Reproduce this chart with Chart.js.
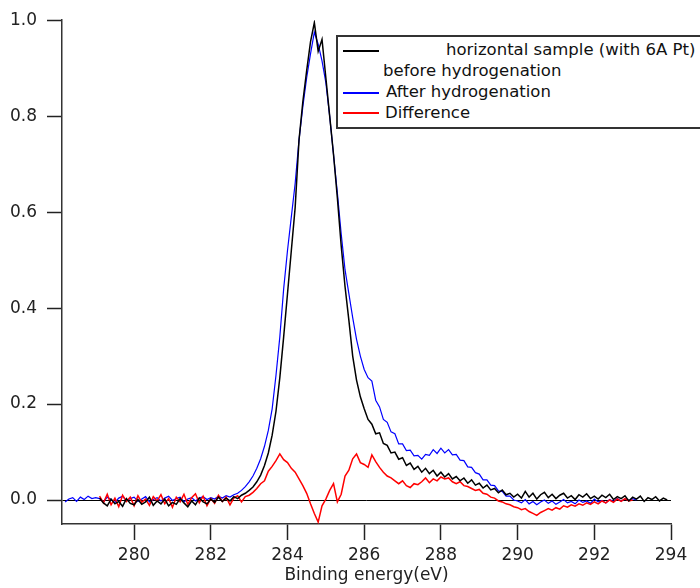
<!DOCTYPE html>
<html>
<head>
<meta charset="utf-8">
<script src="https://cdn.jsdelivr.net/npm/chart.js@4/dist/chart.umd.min.js"></script>
<style>
  html, body { margin: 0; padding: 0; background: #fff; }
  #wrap { position: relative; width: 700px; height: 588px; font-family: 'DejaVu Sans', sans-serif; }
  #legend { position: absolute; left: 336px; top: 35px; width: 380px; height: 90px; border: 2px solid #333; background: #fff; }
  #legend .line { position: absolute; left: 5px; width: 36px; height: 2px; }
  #legend .txt { position: absolute; font-size: 16.5px; line-height: 20px; color: #111; white-space: nowrap; }
</style>
</head>
<body>
<div id="wrap">
  <canvas id="xps" width="700" height="588"></canvas>
  <div id="legend">
    <div class="line" style="top:13px;background:#000"></div>
    <div class="txt" style="left:108px;top:3px">horizontal sample (with 6A Pt)</div>
    <div class="txt" style="left:45px;top:24px">before hydrogenation</div>
    <div class="line" style="top:55px;background:#0000ff"></div>
    <div class="txt" style="left:48px;top:45px">After hydrogenation</div>
    <div class="line" style="top:75px;background:#ff0000"></div>
    <div class="txt" style="left:47px;top:66px">Difference</div>
  </div>
</div>
<script>
// ------------ DATA (binding energy in eV, normalised intensity) ------------
const energy = [
  278.2, 278.3, 278.4, 278.5, 278.6, 278.7, 278.8, 278.9,
  279.0, 279.1, 279.2, 279.3, 279.4, 279.5, 279.6, 279.7, 279.8, 279.9,
  280.0, 280.1, 280.2, 280.3, 280.4, 280.5, 280.6, 280.7, 280.8, 280.9,
  281.0, 281.1, 281.2, 281.3, 281.4, 281.5, 281.6, 281.7, 281.8, 281.9,
  282.0, 282.1, 282.2, 282.3, 282.4, 282.5, 282.6, 282.7, 282.8, 282.9,
  283.0, 283.1, 283.2, 283.3, 283.4, 283.5, 283.6, 283.7, 283.8, 283.9,
  284.0, 284.1, 284.2, 284.3, 284.4, 284.5, 284.6, 284.7, 284.8, 284.9,
  285.0, 285.1, 285.2, 285.3, 285.4, 285.5, 285.6, 285.7, 285.8, 285.9,
  286.0, 286.1, 286.2, 286.3, 286.4, 286.5, 286.6, 286.7, 286.8, 286.9,
  287.0, 287.1, 287.2, 287.3, 287.4, 287.5, 287.6, 287.7, 287.8, 287.9,
  288.0, 288.1, 288.2, 288.3, 288.4, 288.5, 288.6, 288.7, 288.8, 288.9,
  289.0, 289.1, 289.2, 289.3, 289.4, 289.5, 289.6, 289.7, 289.8, 289.9,
  290.0, 290.1, 290.2, 290.3, 290.4, 290.5, 290.6, 290.7, 290.8, 290.9,
  291.0, 291.1, 291.2, 291.3, 291.4, 291.5, 291.6, 291.7, 291.8, 291.9,
  292.0, 292.1, 292.2, 292.3, 292.4, 292.5, 292.6, 292.7, 292.8, 292.9,
  293.0, 293.1, 293.2, 293.3, 293.4, 293.5, 293.6, 293.7, 293.8, 293.9,
  294.0
];

// before hydrogenation (black)
const beforeH = [
  null, null, null, null, null, null, null, null,
  null, 0.004, -0.006, -0.012, 0.002, -0.008, -0.003, -0.013, 0.003, -0.007,
  -0.010, 0.001, -0.009, -0.004, 0.006, -0.011, -0.002, -0.008, 0.002, -0.012,
  -0.005, -0.009, 0.003, -0.006, -0.014, -0.002, -0.010, 0.004, -0.004, -0.008,
  0.002, -0.005, 0.006, -0.003, 0.004, -0.002, 0.007, 0.003, 0.010, 0.014,
  0.020, 0.027, 0.038, 0.052, 0.072, 0.098, 0.135, 0.185, 0.255, 0.340,
  0.430, 0.520, 0.610, 0.750, 0.830, 0.895, 0.955, 0.995, 0.935, 0.960,
  0.880, 0.800, 0.720, 0.630, 0.530, 0.445, 0.375, 0.300, 0.250, 0.215,
  0.190, 0.168, 0.158, 0.138, 0.140, 0.118, 0.114, 0.098, 0.100, 0.085,
  0.088, 0.072, 0.077, 0.064, 0.070, 0.058, 0.066, 0.055, 0.062, 0.050,
  0.058, 0.048, 0.055, 0.044, 0.049, 0.040, 0.046, 0.035, 0.042, 0.031,
  0.035, 0.025, 0.031, 0.021, 0.024, 0.015, 0.021, 0.011, 0.014, 0.006,
  0.012, 0.004, 0.018, 0.006, 0.014, 0.002, 0.011, 0.016, 0.005, 0.012,
  0.003, 0.010, 0.014, 0.004, 0.009, 0.001, 0.011, 0.006, 0.013, 0.003,
  0.008, 0.002, 0.010, 0.005, 0.012, 0.001, 0.007, 0.003, 0.009, -0.002,
  0.006, 0.002, 0.008, -0.003, 0.005, 0.001, 0.007, -0.002, 0.004, 0.000,
  null
];

// after hydrogenation (blue)
const afterH = [
  -0.004, 0.002, 0.005, -0.003, 0.006, 0.001, 0.008, 0.003,
  0.005, 0.003, -0.004, 0.006, 0.001, -0.005, 0.004, 0.008, -0.002, 0.003,
  0.006, -0.003, 0.002, 0.007, -0.004, 0.001, 0.005, -0.002, 0.004, 0.008,
  -0.001, 0.003, 0.006, -0.004, 0.002, 0.005, -0.002, 0.004, 0.007, 0.001,
  0.005, 0.002, 0.008, 0.004, 0.009, 0.006, 0.011, 0.014, 0.020, 0.028,
  0.038, 0.050, 0.066, 0.086, 0.112, 0.145, 0.190, 0.260, 0.340, 0.440,
  0.520, 0.590, 0.660, 0.750, 0.820, 0.880, 0.930, 0.975, 0.950, 0.915,
  0.870, 0.800, 0.720, 0.640, 0.555, 0.480, 0.430, 0.380, 0.335, 0.300,
  0.272, 0.255, 0.248, 0.208, 0.194, 0.168, 0.162, 0.142, 0.138, 0.117,
  0.117, 0.103, 0.104, 0.092, 0.093, 0.085, 0.095, 0.093, 0.105, 0.097,
  0.108, 0.098, 0.105, 0.094, 0.095, 0.083, 0.082, 0.069, 0.068, 0.057,
  0.054, 0.042, 0.042, 0.031, 0.030, 0.019, 0.018, 0.008, 0.008, 0.000,
  -0.002, -0.006, 0.001, -0.008, -0.003, -0.010, -0.004, 0.000, -0.007, -0.002,
  -0.009, -0.004, 0.001, -0.006, -0.003, -0.008, 0.000, -0.005, -0.002, -0.007,
  0.002, -0.004, -0.001, -0.006, 0.001, -0.003, 0.003, -0.002, 0.002, -0.001,
  0.003, 0.000, null, null, null, null, null, null, null, null,
  null
];

// difference (red)
const difference = [
  null, null, null, null, null, null, null, null,
  null, 0.008, -0.006, 0.012, -0.010, 0.004, -0.014, 0.010, -0.003, 0.006,
  -0.012, 0.009, -0.005, 0.002, -0.011, 0.007, -0.002, 0.011, -0.008, 0.003,
  -0.015, 0.006, -0.004, 0.012, -0.009, 0.005, 0.013, -0.006, 0.008, -0.012,
  0.003, -0.007, 0.010, -0.003, 0.006, -0.010, 0.004, 0.009, -0.004, 0.007,
  0.010, 0.016, 0.024, 0.034, 0.040, 0.060, 0.070, 0.082, 0.096, 0.084,
  0.078, 0.066, 0.058, 0.044, 0.030, 0.014, -0.008, -0.028, -0.046, -0.012,
  0.002, 0.020, 0.034, -0.004, 0.012, 0.050, 0.062, 0.086, 0.096, 0.078,
  0.074, 0.068, 0.094, 0.080, 0.068, 0.058, 0.050, 0.046, 0.040, 0.034,
  0.040, 0.030, 0.026, 0.034, 0.032, 0.038, 0.046, 0.036, 0.044, 0.040,
  0.048, 0.044, 0.046, 0.038, 0.034, 0.038, 0.030, 0.028, 0.024, 0.020,
  0.022, 0.014, 0.012, 0.006, 0.004, -0.002, -0.004, -0.008, -0.010, -0.014,
  -0.016, -0.020, -0.018, -0.024, -0.028, -0.032, -0.026, -0.022, -0.018, -0.021,
  -0.016, -0.019, -0.012, -0.015, -0.010, -0.013, -0.008, -0.011, -0.006, -0.009,
  -0.004, -0.008, -0.002, -0.006, 0.000, -0.005, 0.002, -0.003, 0.003, -0.002,
  0.000, null, null, null, null, null, null, null, null, null,
  null
];

const xTicks = [280, 282, 284, 286, 288, 290, 292, 294];
const yTicks = [0, 0.2, 0.4, 0.6, 0.8, 1.0];

// ------------ CHART ---------------
const font = { family: "'DejaVu Sans', sans-serif", size: 17 };
const points = vals => energy.map((e, i) => ({ x: e, y: vals[i] }));

new Chart(document.getElementById('xps'), {
  type: 'line',
  data: {
    datasets: [
      { label: 'horizontal sample (with 6A Pt) before hydrogenation', data: points(beforeH),
        borderColor: '#000000', borderWidth: 1.5, order: 0 },
      { label: 'Difference', data: points(difference),
        borderColor: '#ff0000', borderWidth: 1.5, order: 1 },
      { label: 'After hydrogenation', data: points(afterH),
        borderColor: '#0000ff', borderWidth: 1.2, order: 2 }
    ]
  },
  options: {
    responsive: false,
    animation: false,
    spanGaps: false,
    elements: { point: { radius: 0 }, line: { tension: 0 } },
    layout: { padding: { top: 17, right: 29, left: 0, bottom: 0 } },
    plugins: { legend: { display: false }, tooltip: { enabled: false } },
    scales: {
      x: {
        type: 'linear',
        min: 278.12,
        max: 294,
        afterBuildTicks: axis => { axis.ticks = xTicks.map(v => ({ value: v })); },
        afterFit: axis => { axis.height = 64; },
        ticks: { font: font, color: '#222', padding: 5, maxRotation: 0, autoSkip: false },
        grid: { drawOnChartArea: false, tickLength: 16, tickColor: '#222', tickWidth: 1.5 },
        border: { color: '#333', width: 1.5 },
        title: { display: true, text: 'Binding energy(eV)', font: font, color: '#222',
                 padding: { top: 0, bottom: 2 } }
      },
      y: {
        min: -0.05,
        max: 1.0,
        afterBuildTicks: axis => { axis.ticks = yTicks.map(v => ({ value: v })); },
        afterFit: axis => { axis.width = 62; },
        ticks: { font: font, color: '#222', padding: 10, callback: v => v.toFixed(1) },
        grid: {
          color: ctx => (ctx.tick && ctx.tick.value === 0) ? '#000' : 'rgba(0,0,0,0)',
          lineWidth: 1,
          tickLength: 15,
          tickColor: '#222',
          tickWidth: 1.5
        },
        border: { color: '#333', width: 1.5 }
      }
    }
  }
});
</script>
</body>
</html>
